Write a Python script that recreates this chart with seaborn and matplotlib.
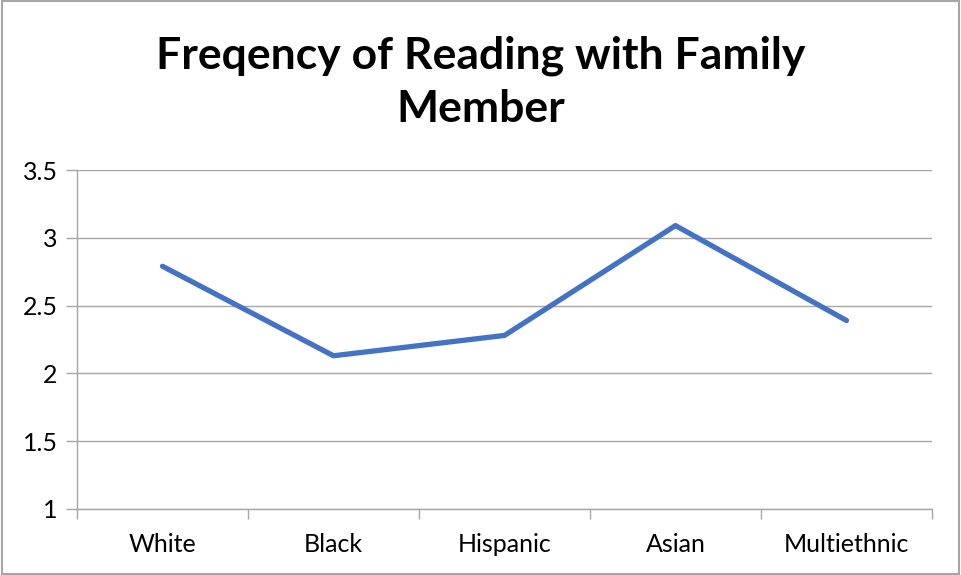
import matplotlib
matplotlib.use("Agg")
import matplotlib.pyplot as plt
import pandas as pd
import seaborn as sns

groups = ["White", "Black", "Hispanic", "Asian", "Multiethnic"]
scores = [2.79, 2.13, 2.28, 3.09, 2.39]
y_ticks = [1, 1.5, 2, 2.5, 3, 3.5]
title = "Freqency of Reading with Family\nMember"

df = pd.DataFrame({"group": groups, "score": scores})

sns.set_style("white")
plt.rcParams["font.family"] = ["Lato", "DejaVu Sans"]

fig = plt.figure(figsize=(9.61, 5.75), dpi=100)
ax = fig.add_axes([77 / 961, 1 - 509 / 575, (932 - 77) / 961, (509 - 170) / 575])

x = range(len(groups))
sns.lineplot(x=list(x), y=df["score"], ax=ax, color="#4472C4", linewidth=3.8,
             solid_capstyle="round")

ax.set_xlim(-0.5, len(groups) - 0.5)
ax.set_ylim(1, 3.5)
ax.set_yticks(y_ticks)
ax.set_yticklabels([f"{v:g}" for v in y_ticks], fontsize=18, color="black")
ax.set_xticks(list(x))
ax.set_xticklabels(groups, fontsize=18, color="black")
ax.set_xticks([i - 0.5 for i in range(len(groups) + 1)], minor=True)
ax.tick_params(axis="x", which="major", length=0, pad=17)
ax.tick_params(axis="x", which="minor", length=7, color="#a6a6a6", width=1,
               direction="out", bottom=True)
ax.tick_params(axis="y", length=8, color="#a6a6a6", width=1, direction="out",
               left=True, pad=6)
ax.grid(axis="y", color="#a6a6a6", linewidth=1)
ax.set_axisbelow(True)
ax.set_xlabel("")
ax.set_ylabel("")
for side in ["top", "right"]:
    ax.spines[side].set_visible(False)
for side in ["left", "bottom"]:
    ax.spines[side].set_color("#a6a6a6")
    ax.spines[side].set_linewidth(1)

fig.text(481 / 961, 1 - 82 / 575, title, ha="center", va="center",
         fontsize=32, fontweight="bold", color="black", linespacing=1.4)

border = plt.Rectangle((0.002, 0.002), 0.996, 0.996, transform=fig.transFigure,
                       fill=False, edgecolor="#a6a6a6", linewidth=1.5)
fig.patches.append(border)

fig.savefig("out.png", dpi=100)
